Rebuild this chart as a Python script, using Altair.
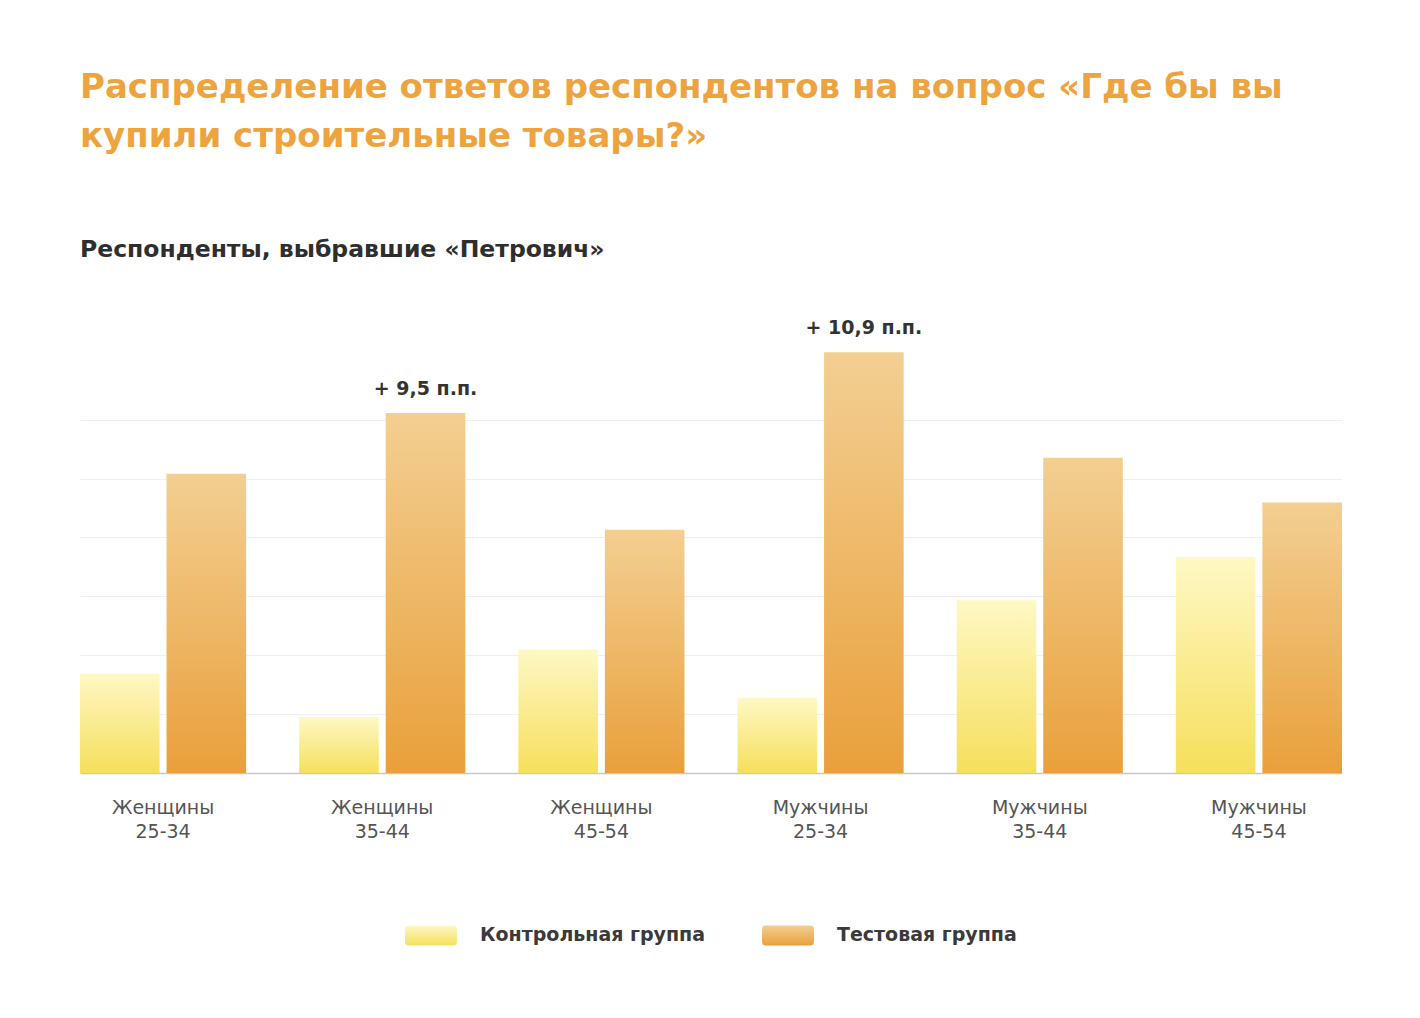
import altair as alt
import pandas as pd

# ---- data ----
categories = ["Женщины 25-34", "Женщины 35-44", "Женщины 45-54",
              "Мужчины 25-34", "Мужчины 35-44", "Мужчины 45-54"]
groups = ["Контрольная группа", "Тестовая группа"]
control_values = [3.1, 1.75, 3.85, 2.35, 5.4, 6.75]
test_values = [9.35, 11.25, 7.6, 13.15, 9.85, 8.45]
annotations = ["", "+ 9,5 п.п.", "", "+ 10,9 п.п.", "", ""]
grid_values = [1.84, 3.68, 5.52, 7.36, 9.2, 11.04]

rows = []
for c, v, t, a in zip(categories, control_values, test_values, annotations):
    rows.append({"category": c, "group": groups[0], "value": v, "note": ""})
    rows.append({"category": c, "group": groups[1], "value": t, "note": a})
df = pd.DataFrame(rows)

FONT = "DejaVu Sans"


def grad(top, bottom):
    return ("{gradient: 'linear', x1: 0, y1: 0, x2: 0, y2: 1, stops: ["
            "{offset: 0, color: '%s'}, {offset: 1, color: '%s'}]}" % (top, bottom))


color_scale = alt.Scale(
    domain=groups,
    range=[{"expr": grad("#fef8c4", "#f6df5c")},
           {"expr": grad("#f3cf92", "#e9a03b")}],
)

rr = ("M-0.85,-0.385 H0.85 Q1,-0.385 1,-0.235 V0.235 Q1,0.385 0.85,0.385 "
      "H-0.85 Q-1,0.385 -1,0.235 V-0.235 Q-1,-0.385 -0.85,-0.385 Z")

base = alt.Chart(df).encode(
    x=alt.X("category:N", sort=categories, title=None,
            scale=alt.Scale(paddingInner=0.242, paddingOuter=0),
            axis=alt.Axis(labelExpr="split(datum.label, ' ')", labelAngle=0,
                          labelFont=FONT, labelFontSize=19, labelColor="#555555",
                          labelLineHeight=24, labelPadding=25, ticks=False,
                          domainColor="#c8c8c8", domainWidth=1.5, grid=False)),
    xOffset=alt.XOffset("group:N", sort=groups,
                        scale=alt.Scale(paddingInner=0.08, paddingOuter=0)),
    y=alt.Y("value:Q", title=None,
            scale=alt.Scale(domain=[0, 14.5], nice=False, zero=True),
            axis=alt.Axis(values=grid_values, labels=False, ticks=False,
                          domain=False, gridColor="#efefef", gridWidth=1)),
)

bars = base.mark_bar().encode(
    color=alt.Color("group:N", scale=color_scale, title=None,
                    legend=alt.Legend(orient="none", legendX=325, legendY=600,
                                      direction="horizontal", symbolType=rr,
                                      symbolSize=2704, symbolStrokeWidth=0,
                                      labelFont=FONT, labelFontSize=19,
                                      labelFontWeight="bold", labelColor="#3a3a3a",
                                      labelOffset=23, labelLimit=500,
                                      columnPadding=56, padding=0))
)

notes = base.mark_text(baseline="bottom", dy=-14, font=FONT, fontSize=19,
                       fontWeight="bold", color="#333333").encode(text="note:N")

chart = (
    alt.layer(bars, notes)
    .properties(
        width=1262, height=464,
        padding={"left": 72, "top": 62, "right": 10, "bottom": 10},
        background="white",
        title=alt.TitleParams(
            text=["Распределение ответов респондентов на вопрос «Где бы вы",
                  "купили строительные товары?»"],
            subtitle="Респонденты, выбравшие «Петрович»",
            anchor="start", font=FONT, fontSize=34, fontWeight="bold",
            color="#eda43f", lineHeight=49,
            subtitleFont=FONT, subtitleFontSize=23.5, subtitleFontWeight="bold",
            subtitleColor="#2e2e2e", subtitlePadding=84, offset=48,
        ),
    )
    .configure_view(stroke=None)
)

chart.save("out.html", embed_options={"renderer": "svg", "actions": False})
